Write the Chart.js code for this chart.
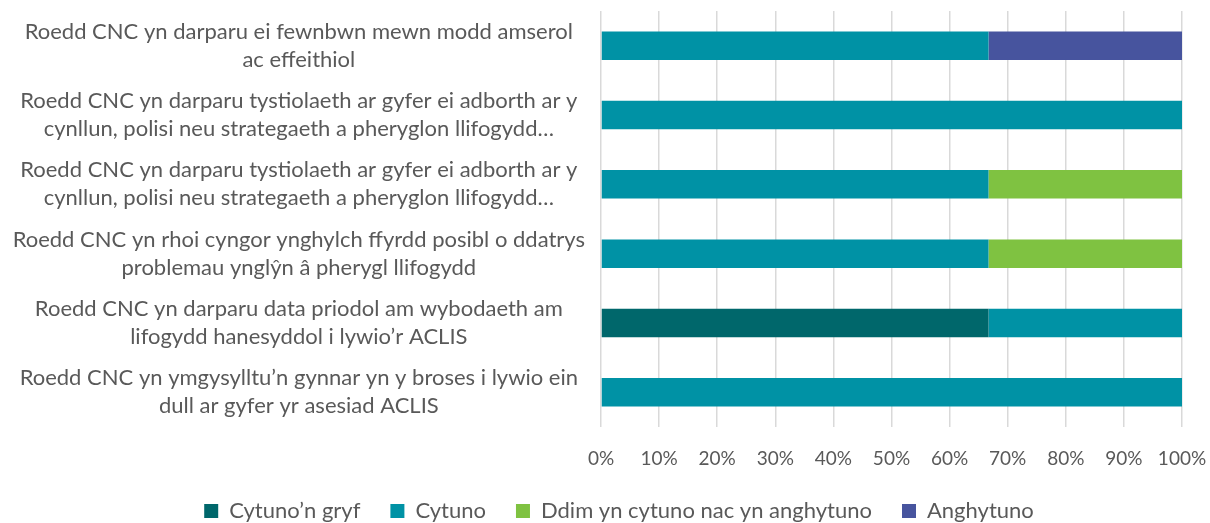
<!DOCTYPE html>
<html>
<head>
<meta charset="utf-8">
<script src="https://cdn.jsdelivr.net/npm/chart.js@4"></script>
<style>
  body { margin: 0; background: #fff; }
  #wrap { width: 1210px; height: 523px; }
</style>
</head>
<body>
<div id="wrap"><canvas id="chart"></canvas></div>
<script>
const categories = [
    ['Roedd CNC yn darparu ei fewnbwn mewn modd amserol', 'ac effeithiol'],
    ['Roedd CNC yn darparu tystiolaeth ar gyfer ei adborth ar y', 'cynllun, polisi neu strategaeth a pheryglon llifogydd…'],
    ['Roedd CNC yn darparu tystiolaeth ar gyfer ei adborth ar y', 'cynllun, polisi neu strategaeth a pheryglon llifogydd…'],
    ['Roedd CNC yn rhoi cyngor ynghylch ffyrdd posibl o ddatrys', 'problemau ynglŷn â pherygl llifogydd'],
    ['Roedd CNC yn darparu data priodol am wybodaeth am', 'lifogydd hanesyddol i lywio’r ACLIS'],
    ['Roedd CNC yn ymgysylltu’n gynnar yn y broses i lywio ein', 'dull ar gyfer yr asesiad ACLIS']
];

const seriesNames = ['Cytuno’n gryf', 'Cytuno', 'Ddim yn cytuno nac yn anghytuno', 'Anghytuno'];
const cytunoGryf = [0, 0, 0, 0, 66.7, 0];
const cytuno = [66.7, 100, 66.7, 66.7, 33.3, 100];
const ddim = [0, 0, 33.3, 33.3, 0, 0];
const anghytuno = [33.3, 0, 0, 0, 0, 0];
const colours = ['#00676B', '#0092A5', '#7FC241', '#47549E'];

const family = 'Lato, "Liberation Sans", sans-serif';
const labelFont = { family: family, size: 22, lineHeight: 1.27 };
const tickFont = { family: family, size: 19 };

// keep the legend short so the wide item spacing doesn't eat into the plot,
// and nudge it right like the original
const legendTweak = {
    id: 'legendTweak',
    beforeLayout(chart) {
        const lg = chart.legend;
        if (lg && !lg._patched) {
            const fit = lg.fit;
            lg.fit = function() {
                fit.call(this);
                this.height = 53;
            };
            const draw = lg.draw;
            lg.draw = function() {
                this.ctx.save();
                this.ctx.translate(14, 0);
                draw.call(this);
                this.ctx.restore();
            };
            lg._patched = true;
        }
    }
};

new Chart(document.getElementById('chart'), {
    type: 'bar',
    data: {
        labels: categories,
        datasets: [cytunoGryf, cytuno, ddim, anghytuno].map((d, i) => ({
            label: seriesNames[i],
            data: d,
            backgroundColor: colours[i],
            categoryPercentage: 1,
            barPercentage: 0.41
        }))
    },
    options: {
        indexAxis: 'y',
        responsive: true,
        maintainAspectRatio: false,
        animation: false,
        layout: { padding: { top: 11, right: 0, left: 0, bottom: 0 } },
        scales: {
            x: {
                stacked: true,
                min: 0, max: 100,
                afterFit: s => { s.paddingRight = 28; s.paddingLeft = 0; s.height = 43; },
                ticks: { stepSize: 10, callback: v => v + '%', color: '#595959', font: tickFont, padding: 20, maxRotation: 0, autoSkip: false },
                grid: { color: '#d9d9d9', drawTicks: false, lineWidth: 1.5 },
                border: { display: false }
            },
            y: {
                stacked: true,
                afterFit: s => { s.width = 601; s.paddingTop = 0; s.paddingBottom = 0; },
                ticks: { color: '#595959', font: labelFont, crossAlign: 'center', padding: 16 },
                grid: { display: false, drawTicks: false },
                border: { display: false }
            }
        },
        plugins: {
            legend: {
                position: 'bottom',
                labels: { boxWidth: 14, boxHeight: 14, color: '#595959', font: labelFont, padding: 30 }
            },
            tooltip: { enabled: false }
        }
    },
    plugins: [legendTweak]
});
</script>
</body>
</html>
